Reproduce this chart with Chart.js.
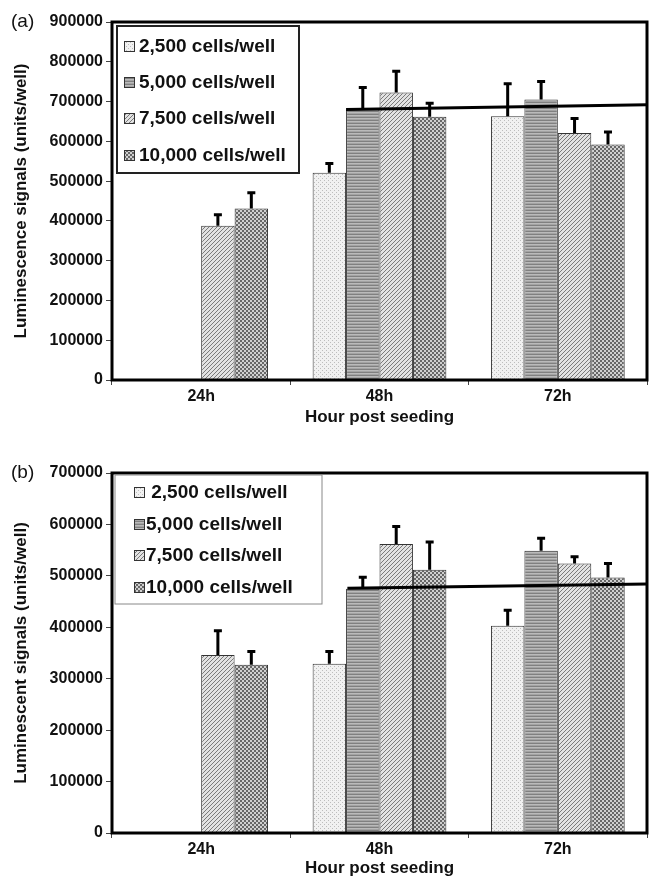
<!DOCTYPE html>
<html>
<head>
<meta charset="utf-8">
<script src="https://cdn.jsdelivr.net/npm/chart.js@4"></script>
<style>
body { margin: 0; background: #fff; overflow: hidden; }
canvas { position: absolute; left: 0; }
</style>
</head>
<body>
<canvas id="chartA" width="649" height="440" style="top:0"></canvas>
<canvas id="chartB" width="649" height="439" style="top:440px"></canvas>
<script>
const hours = ["24h", "48h", "72h"];
const seriesNames = ["2,500 cells/well", "5,000 cells/well", "7,500 cells/well", "10,000 cells/well"];
const seriesNamesB = [" 2,500 cells/well", "5,000 cells/well", "7,500 cells/well", "10,000 cells/well"];

// panel (a) - luminescence signals
const a2500 = [null, 521000, 663000];
const a5000 = [null, 680000, 705000];
const a7500 = [388000, 723000, 621000];
const a10000 = [431000, 662000, 592000];
const a2500Err = [0, 26000, 84000];
const a5000Err = [0, 58000, 48000];
const a7500Err = [30000, 56000, 39000];
const a10000Err = [42000, 36000, 34000];
// trend line, x in category units (48h = 1)
const trendAx = [0.8125, 2.5];
const trendAy = [680000, 692000];

// panel (b) - luminescent signals
const b2500 = [null, 329000, 403000];
const b5000 = [null, 475000, 549000];
const b7500 = [346000, 562000, 524000];
const b10000 = [327000, 512000, 497000];
const b2500Err = [0, 26000, 32000];
const b5000Err = [0, 24000, 26000];
const b7500Err = [49000, 36000, 15000];
const b10000Err = [28000, 56000, 29000];
const trendBx = [0.82, 2.5];
const trendBy = [476000, 484000];

const FAMILY = "'Liberation Sans', Arial, sans-serif";

function makePattern(w, h, draw) {
	const c = document.createElement("canvas");
	c.width = w;
	c.height = h;
	const g = c.getContext("2d");
	draw(g);
	return g.createPattern(c, "repeat");
}
function px(g, x, y, col) {
	g.fillStyle = col;
	g.fillRect(x, y, 1, 1);
}

const patterns = [
	// light stipple
	makePattern(4, 4, (g) => {
		g.fillStyle = "#f1f1f1";
		g.fillRect(0, 0, 4, 4);
		px(g, 0, 0, "#bdbdbd");
		px(g, 2, 2, "#bdbdbd");
	}),
	// horizontal lines, mid grey
	makePattern(4, 3, (g) => {
		g.fillStyle = "#a3a3a3";
		g.fillRect(0, 0, 4, 3);
		g.fillStyle = "#808080";
		g.fillRect(0, 0, 4, 1);
		g.fillStyle = "#bababa";
		g.fillRect(0, 1, 4, 1);
	}),
	// diagonal hatch
	makePattern(4, 4, (g) => {
		g.fillStyle = "#e2e2e2";
		g.fillRect(0, 0, 4, 4);
		for (let i = 0; i < 4; i++) px(g, i, 3 - i, "#7a7a7a");
	}),
	// checkerboard
	makePattern(4, 4, (g) => {
		g.fillStyle = "#d0d0d0";
		g.fillRect(0, 0, 4, 4);
		g.fillStyle = "#676767";
		g.fillRect(0, 0, 2, 2);
		g.fillRect(2, 2, 2, 2);
	}),
];

// trend line + error bars, placed with the chart's own scales
const overlays = {
	id: "overlays",
	afterDatasetsDraw(chart, args, opts) {
		const ctx = chart.ctx;
		const x = chart.scales.x;
		const y = chart.scales.y;
		ctx.save();
		ctx.strokeStyle = "#000";
		ctx.lineWidth = 3;
		ctx.beginPath();
		opts.trendX.forEach((tx, i) => {
			const p = [x.getPixelForValue(tx), y.getPixelForValue(opts.trendY[i])];
			i === 0 ? ctx.moveTo(p[0], p[1]) : ctx.lineTo(p[0], p[1]);
		});
		ctx.stroke();

		chart.data.datasets.forEach((ds, i) => {
			const meta = chart.getDatasetMeta(i);
			meta.data.forEach((bar, j) => {
				const v = ds.data[j];
				if (v == null || !ds.errors[j]) return;
				const top = y.getPixelForValue(v + ds.errors[j]);
				ctx.beginPath();
				ctx.moveTo(bar.x, bar.y);
				ctx.lineTo(bar.x, top);
				ctx.moveTo(bar.x - 4, top + 1);
				ctx.lineTo(bar.x + 4, top + 1);
				ctx.stroke();
			});
		});
		ctx.restore();
	},
};

const frame = {
	id: "frame",
	afterDraw(chart, args, opts) {
		const ctx = chart.ctx;
		const a = chart.chartArea;
		ctx.save();
		ctx.strokeStyle = "#000";
		ctx.lineWidth = 3;
		ctx.strokeRect(a.left, a.top, a.right - a.left, a.bottom - a.top);
		// panel letter
		ctx.fillStyle = "#111";
		ctx.font = "19px " + FAMILY;
		ctx.textBaseline = "middle";
		ctx.textAlign = "left";
		ctx.fillText(opts.letter, 11, a.top);
		// legend box
		const L = opts.legend;
		ctx.fillStyle = "#fff";
		ctx.fillRect(L.x, L.y, L.w, L.h);
		ctx.strokeStyle = L.border;
		ctx.lineWidth = L.lineWidth;
		ctx.strokeRect(L.x, L.y, L.w, L.h);
		ctx.font = "bold 19px " + FAMILY;
		L.labels.forEach((t, i) => {
			const ry = L.rows[i];
			ctx.fillStyle = patterns[i];
			ctx.fillRect(L.swatchX, ry - 5, 11, 11);
			ctx.strokeStyle = "#333";
			ctx.lineWidth = 1;
			ctx.strokeRect(L.swatchX + 0.5, ry - 4.5, 10, 10);
			ctx.fillStyle = "#111";
			ctx.fillText(t, L.textX, ry + 1);
		});
		ctx.restore();
	},
};

function barSet(label, data, errs, i) {
	return {
		label: label,
		data: data,
		errors: errs,
		backgroundColor: patterns[i],
		borderColor: "#333",
		borderWidth: 1,
		categoryPercentage: 0.75,
		barPercentage: 1.0,
	};
}

function makeChart(id, cfg) {
	const tickFont = { family: FAMILY, size: 16, weight: "bold" };
	const titleFont = { family: FAMILY, size: 17, weight: "bold" };
	return new Chart(document.getElementById(id), {
		type: "bar",
		data: {
			labels: hours,
			datasets: [
				barSet(seriesNames[0], cfg.series[0], cfg.errs[0], 0),
				barSet(seriesNames[1], cfg.series[1], cfg.errs[1], 1),
				barSet(seriesNames[2], cfg.series[2], cfg.errs[2], 2),
				barSet(seriesNames[3], cfg.series[3], cfg.errs[3], 3),
			],
		},
		options: {
			responsive: false,
			animation: false,
			layout: { padding: { top: cfg.padTop, right: 2, left: 0, bottom: 0 } },
			plugins: {
				legend: { display: false },
				tooltip: { enabled: false },
				frame: { letter: cfg.letter, legend: cfg.legend },
				overlays: { trendX: cfg.trendX, trendY: cfg.trendY },
			},
			scales: {
				x: {
					grid: { drawOnChartArea: false, tickLength: 5, color: "#444", offset: true },
					border: { display: false },
					ticks: { font: tickFont, color: "#111", padding: 2 },
					title: {
						display: true,
						text: "Hour post seeding",
						font: titleFont,
						color: "#111",
						padding: { top: 0, bottom: cfg.xTitlePad },
					},
					afterFit: (s) => {
						s.height = cfg.xHeight;
					},
				},
				y: {
					min: 0,
					max: cfg.yMax,
					ticks: {
						stepSize: 100000,
						font: tickFont,
						color: "#111",
						padding: 3,
						callback: (v) => String(v),
					},
					grid: { drawOnChartArea: false, tickLength: 6, color: "#444" },
					border: { display: false },
					title: {
						display: true,
						text: cfg.yTitle,
						font: titleFont,
						color: "#111",
						padding: { top: 11, bottom: 0 },
					},
					afterFit: (s) => {
						s.width = 112;
					},
				},
			},
		},
		plugins: [overlays, frame],
	});
}

makeChart("chartA", {
	letter: "(a)",
	yMax: 900000,
	yTitle: "Luminescence signals (units/well)",
	padTop: 22,
	xHeight: 60,
	xTitlePad: 12,
	series: [a2500, a5000, a7500, a10000],
	errs: [a2500Err, a5000Err, a7500Err, a10000Err],
	trendX: trendAx,
	trendY: trendAy,
	legend: {
		x: 117, y: 26, w: 182, h: 147,
		rows: [46, 82, 118, 155],
		swatchX: 124, textX: 139,
		labels: seriesNames,
		border: "#222", lineWidth: 2,
	},
});

makeChart("chartB", {
	letter: "(b)",
	yMax: 700000,
	yTitle: "Luminescent signals (units/well)",
	padTop: 33,
	xHeight: 46,
	xTitlePad: 0,
	series: [b2500, b5000, b7500, b10000],
	errs: [b2500Err, b5000Err, b7500Err, b10000Err],
	trendX: trendBx,
	trendY: trendBy,
	legend: {
		x: 115, y: 35, w: 207, h: 129,
		rows: [52, 84, 115, 147],
		swatchX: 134, textX: 146,
		labels: seriesNamesB,
		border: "#888", lineWidth: 1,
	},
});
</script>
</body>
</html>
